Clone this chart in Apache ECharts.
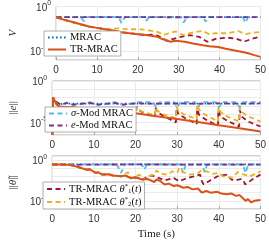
<!DOCTYPE html>
<html><head><meta charset="utf-8">
<script src="https://cdn.jsdelivr.net/npm/echarts@6/dist/echarts.min.js"></script>
<style>html,body{margin:0;padding:0;background:#fff}#c{width:269px;height:241px}</style>
</head><body><div id="c"></div>
<script>
// ---------- data (t in s, value) ----------
const xTicks = [0, 10, 20, 30, 40, 50];
const seriesNames = ['MRAC', 'σ-Mod MRAC', 'e-Mod MRAC', 'TR-MRAC θ1*(t)', 'TR-MRAC θ2*(t)', 'TR-MRAC'];
const yLabelExps1 = [0, -10];
const yLabelExps2 = [0, -5];
const yLabelExps3 = [0, -5];

// Panel 1: V
const vMRAC = [[0,4.0e-3],[8,4.2e-3],[16,3.9e-3],[24,4.1e-3],[32,4.0e-3],[40,4.2e-3],[50,4.0e-3]];
const vSigma = [[0,4.0e-3],[6.0,4.0e-3],[6.8,5.0e-4],[7.5,4.0e-3],[15.3,4.0e-3],[16,2.0e-4],[16.8,4.0e-3],[21.5,4.0e-3],[22.1,6.3e-4],[22.7,4.0e-3],[30.5,4.0e-3],[31.2,2.5e-4],[32,4.0e-3],[36,4.0e-3],[36.6,4.0e-4],[37.2,4.0e-3],[45.7,4.0e-3],[46.3,2.5e-4],[47,4.0e-3],[50,4.0e-3]];
const vEmod = [[0,4.0e-3],[10,4.1e-3],[20,4.0e-3],[30,3.9e-3],[40,4.0e-3],[50,4.0e-3]];
const vTh1 = [[0,4.0e-3],[2,1.0e-3],[4,3.2e-4],[6,1.0e-4],[8,3.2e-5],[10,1.6e-5],[12,7.9e-6],[14,4.0e-6],[16,1.6e-6],[18,1.0e-6],[20,6.3e-7],[22,4.0e-7],[23.7,5.0e-7],[25,2.5e-7],[26,7.9e-8],[27,2.0e-8],[28.5,5.0e-8],[30.5,1.6e-7],[32.6,4.0e-7],[35,1.6e-7],[37,1.26e-8],[39.3,6.3e-8],[42,1.0e-7],[44,6.3e-8],[46,1.26e-8],[48,6.3e-8],[50,1.6e-7]];
const vTh2 = [[0,4.0e-3],[2,1.0e-3],[4,3.2e-4],[6,1.0e-4],[8,3.2e-5],[10,1.6e-5],[12,7.9e-6],[13.5,1.0e-5],[15,1.26e-5],[16.5,1.0e-5],[18,7.9e-6],[20,7.9e-6],[21.6,6.3e-6],[23,4.0e-6],[24.8,2.0e-6],[26.3,4.0e-7],[27.5,1.0e-6],[29.2,2.5e-6],[31,4.0e-7],[33,1.26e-6],[35.9,3.2e-6],[37.4,6.3e-7],[39,1.0e-6],[41.9,1.0e-6],[44.5,3.2e-6],[46.4,6.3e-7],[48,1.26e-6],[50,2.0e-6]];
const vTR = [[0,4.0e-3],[2,1.0e-3],[4,3.2e-4],[6,1.0e-4],[8,3.2e-5],[10,1.6e-5],[12,7.9e-6],[14,4.0e-6],[16,1.6e-6],[18,1.0e-6],[20,6.3e-7],[22,4.0e-7],[24.8,1.6e-7],[26,5.0e-8],[27,2.5e-8],[28,1.26e-8],[29.2,2.0e-8],[31.5,1.26e-8],[33.5,5.0e-9],[35.9,2.0e-9],[37.5,1.26e-9],[39.7,7.9e-10],[41.5,3.2e-10],[43.4,1.6e-10],[45,7.9e-11],[47,3.2e-11],[48.5,1.26e-11],[50,5.0e-12]];

// Panel 2: ||e||
const eMRAC = [[0,3e-7],[0.2,1.0e-2],[0.6,4.0e-3],[1.2,2.5e-3],[2,1.6e-3],[3,1.8e-3],[10,1.9e-3],[20,1.8e-3],[30,1.9e-3],[40,1.8e-3],[50,1.9e-3]];
const eSigma = [[0,3e-7],[0.2,1.0e-2],[0.6,4.0e-3],[1.2,2.5e-3],[2,1.26e-3],[3.5,2.5e-3],[5,1.26e-3],[7,1.6e-3],[9,2.8e-3],[11,1.26e-3],[13,1.6e-3],[15,2.8e-3],[17,1.26e-3],[18.5,1.6e-3],[20,2.8e-3],[24.3,2.8e-3],[25,6.3e-4],[25.8,2.8e-3],[29.3,2.8e-3],[30,6.3e-4],[30.8,2.8e-3],[34.3,2.8e-3],[35,6.3e-4],[35.8,2.8e-3],[39.3,2.8e-3],[40,6.3e-4],[40.8,2.8e-3],[44.3,2.8e-3],[45,6.3e-4],[45.8,2.8e-3],[50,2.8e-3]];
const eEmod = [[0,3e-7],[0.2,1.0e-2],[0.6,4.0e-3],[1.2,2.5e-3],[2,1.4e-3],[3.5,2.2e-3],[5,1.4e-3],[7,1.8e-3],[9,2.2e-3],[11,1.4e-3],[13,1.8e-3],[15,2.2e-3],[17,1.4e-3],[20,2.0e-3],[25,1.8e-3],[30,2.0e-3],[35,1.8e-3],[40,2.0e-3],[45,1.8e-3],[50,2.0e-3]];
const eTh1 = [[0,3e-7],[0.2,1.0e-2],[0.6,4.0e-3],[1,1.6e-3],[1.5,1.0e-3],[2,7.9e-4],[5,6.3e-4],[10,3.5e-4],[15,2.2e-4],[20,1.26e-4],[20.3,1.2e-4],[20.35,7.9e-4],[20.8,3.2e-4],[22,1.3e-4],[24.7,5.0e-5],[24.8,6.3e-4],[25.3,1.6e-4],[27,5.0e-5],[29.7,1.0e-5],[29.8,5.0e-4],[30.3,1.0e-4],[32,3.2e-5],[34.7,6.3e-6],[34.8,4.0e-4],[35.3,7.9e-5],[37,2.0e-5],[39.8,4.0e-6],[39.9,3.2e-4],[40.4,5.0e-5],[42,1.6e-5],[44.9,3.2e-6],[45,3.2e-4],[45.5,5.0e-5],[47,1.26e-5],[50,3.2e-6]];
const eTh2 = [[0,3e-7],[0.2,1.0e-2],[0.6,4.0e-3],[1,1.6e-3],[1.5,1.0e-3],[2,7.9e-4],[5,6.3e-4],[10,3.5e-4],[15,2.2e-4],[20,1.26e-4],[20.3,1.2e-4],[20.35,7.9e-4],[20.8,3.2e-4],[22,1.6e-4],[24.7,7.9e-5],[24.8,6.3e-4],[25.3,2.5e-4],[26.5,1.0e-4],[29.7,3.2e-5],[29.8,8.9e-4],[30.3,2.5e-4],[31.5,1.0e-4],[34.7,2.5e-5],[34.8,1.4e-3],[35.3,3.2e-4],[36.5,1.0e-4],[39.8,1.26e-5],[39.9,6.3e-4],[40.4,2.0e-4],[41.6,6.3e-5],[44.9,1.26e-5],[45,6.3e-4],[45.5,2.0e-4],[46.7,6.3e-5],[50,1.26e-5]];
const eTR = [[0,3e-7],[0.2,1.0e-2],[0.6,4.0e-3],[1,1.6e-3],[1.5,1.0e-3],[2,7.9e-4],[5,6.3e-4],[10,3.5e-4],[15,2.2e-4],[20,1.26e-4],[25,5.6e-5],[30,2.5e-5],[35,1.12e-5],[40,4.5e-6],[45,2.0e-6],[50,7.9e-7]];

// Panel 3: ||theta~||
const thMRAC = [[0,0.28],[10,0.28],[20,0.29],[30,0.28],[40,0.28],[50,0.28]];
const thSigma = [[0,0.28],[6.0,0.28],[6.8,0.1],[7.5,0.28],[15.5,0.28],[16.5,0.025],[17.4,0.28],[21.5,0.28],[22.1,0.063],[22.7,0.28],[30.7,0.28],[31.4,0.025],[32.1,0.28],[36,0.28],[36.6,0.032],[37.2,0.28],[45.8,0.28],[46.4,0.025],[47.1,0.28],[50,0.28]];
const thEmod = [[0,0.27],[10,0.27],[20,0.28],[30,0.27],[40,0.27],[50,0.27]];
const thTh1 = [[0,0.275],[2,0.275],[4,0.25],[5,0.2],[6,0.148],[7,0.1],[8.3,0.063],[9,0.071],[10.5,0.025],[11,0.032],[12,0.016],[13.5,0.0178],[14.5,0.0126],[16.5,0.01],[17.5,0.0126],[18.8,0.0063],[20,0.0071],[21.7,0.004],[23,0.01],[24,0.0126],[25.5,0.0063],[27,0.0032],[29.2,0.0063],[30.4,0.0025],[32,0.005],[34,0.01],[35.5,0.016],[36,0.002],[36.4,0.001],[38,0.0032],[39.7,0.01],[42,0.016],[43,0.004],[44,0.0032],[45.5,0.005],[46,0.0025],[46.3,0.001],[48.6,0.0063],[50,0.016]];
const thTh2 = [[0,0.275],[2,0.275],[4,0.25],[5,0.2],[6,0.148],[7,0.1],[8.3,0.063],[9,0.071],[10.5,0.025],[11,0.032],[12,0.016],[13.5,0.0178],[14.5,0.0126],[16.5,0.01],[17.5,0.02],[18.2,0.032],[18.8,0.005],[20,0.01],[21,0.016],[21.7,0.0032],[23,0.01],[24.5,0.016],[25,0.05],[26,0.02],[27.7,0.016],[28.8,0.04],[30,0.025],[30.5,0.1],[31.5,0.032],[33,0.016],[35,0.025],[36,0.063],[37,0.04],[38.5,0.02],[40,0.025],[41,0.01],[43.3,0.0063],[44.5,0.032],[46,0.016],[47.5,0.01],[49.3,0.025],[50,0.04]];
const thTR = [[0,0.275],[2,0.275],[4,0.25],[5,0.2],[6,0.148],[7,0.1],[8.3,0.063],[9,0.071],[10.5,0.025],[11,0.032],[12,0.016],[13.5,0.0178],[14.5,0.0126],[16.5,0.01],[17.5,0.0126],[18.8,0.0063],[20,0.0071],[21.7,0.004],[23,0.0045],[24.5,0.002],[25,0.004],[26,0.0025],[27,1e-3],[28,1.26e-3],[29.2,6.3e-4],[30,7.9e-4],[31.5,4e-4],[32.5,5e-4],[33.7,2.5e-4],[35,3.2e-4],[35.9,1e-4],[37,1.6e-4],[38,1e-4],[39.7,1.26e-4],[40.5,7.9e-5],[41.9,6.3e-5],[43,7.9e-5],[44.1,4e-5],[45,5e-5],[46.4,1e-5],[47,1.6e-5],[47.8,6.3e-6],[48.5,1e-5],[50,1.26e-5]];

// ---------- styling ----------
const styles = {
  'MRAC': {color:'#0072BD', type:[1.6,2.4], width:1.8},
  'σ-Mod MRAC': {color:'#4DBEEE', type:[5,3.5], width:1.8},
  'e-Mod MRAC': {color:'#7E2F8E', type:[5,3.5], width:1.8},
  'TR-MRAC θ1*(t)': {color:'#A2142F', type:[5,3.5], width:1.8},
  'TR-MRAC θ2*(t)': {color:'#EDB120', type:[5,3.5], width:1.8},
  'TR-MRAC': {color:'#D95319', type:'solid', width:2}
};
const panels = [
  [vMRAC, vSigma, vEmod, vTh1, vTh2, vTR],
  [eMRAC, eSigma, eEmod, eTh1, eTh2, eTR],
  [thMRAC, thSigma, thEmod, thTh1, thTh2, thTR]
];
const series = [];
panels.forEach((arrs, p) => {
  arrs.forEach((d, k) => {
    const nm = seriesNames[k];
    const st = styles[nm];
    series.push({
      name: nm, type: 'line', xAxisIndex: p, yAxisIndex: p, data: d,
      symbol: 'none', showSymbol: false, animation: false, clip: true,
      itemStyle: {color: st.color},
      lineStyle: {color: st.color, type: st.type, width: st.width, cap: 'butt'}
    });
  });
});

const gridColor = '#a8a8a8';
const tickFont = 'Liberation Sans, Arial, sans-serif';
const serif = 'Liberation Serif, Times New Roman, serif';

function expLabel(show) {
  return function (v) {
    const e = Math.round(Math.log10(v) * 100) / 100;
    return show.indexOf(e) >= 0 ? '{b|10}{s|' + e + '}' : '';
  };
}
const labelRich = {
  b: {fontSize: 10, fontFamily: tickFont, color: '#333', lineHeight: 13, verticalAlign: 'bottom'},
  s: {fontSize: 7, fontFamily: tickFont, color: '#333', verticalAlign: 'top'}
};

function xAxis(i) {
  const a = {
    type: 'value', gridIndex: i, min: xTicks[0], max: xTicks[xTicks.length - 1], interval: 10,
    axisLine: {show: false},
    axisTick: {show: true, inside: true, length: 3, lineStyle: {color: gridColor}},
    axisLabel: {fontSize: 10, fontFamily: tickFont, color: '#333', margin: 5},
    splitLine: {show: true, lineStyle: {color: '#ebebeb', width: 1}}
  };
  if (i === 2) {
    a.name = 'Time (s)'; a.nameLocation = 'middle'; a.nameGap = 20;
    a.nameTextStyle = {fontFamily: serif, fontSize: 11, color: '#222'};
  }
  return a;
}
function yAxis(i, min, max, show, name) {
  return {
    type: 'log', logBase: 10, gridIndex: i, min: min, max: max,
    axisLine: {show: false},
    axisTick: {show: false},
    axisLabel: {formatter: expLabel(show), rich: labelRich, margin: 5},
    splitLine: {show: true, lineStyle: {color: '#ebebeb', width: 1}},
    name: name, nameLocation: 'middle', nameGap: 27, nameRotate: 90,
    nameTextStyle: {fontFamily: serif, fontSize: 11, color: '#333',
      rich: {i: {fontFamily: serif, fontSize: 11, fontStyle: 'italic', color: '#333'},
             n: {fontFamily: serif, fontSize: 11, color: '#333'}}}
  };
}

const legendRich = {
  i: {fontFamily: serif, fontSize: 10.5, fontStyle: 'italic', color: '#111'},
  sub: {fontFamily: serif, fontSize: 7, fontStyle: 'normal', color: '#111', verticalAlign: 'bottom'},
  sup: {fontFamily: serif, fontSize: 7, color: '#111', verticalAlign: 'top'},
  n: {fontFamily: serif, fontSize: 10.5, color: '#111', lineHeight: 12}
};
const legendLabels = {
  'MRAC': '{n|MRAC}',
  'TR-MRAC': '{n|TR-MRAC}',
  'σ-Mod MRAC': '{i|σ}{n|-Mod MRAC}',
  'e-Mod MRAC': '{i|e}{n|-Mod MRAC}',
  'TR-MRAC θ1*(t)': '{n|TR-MRAC }{i|θ}{sup|*}{sub|1}{n|(}{i|t}{n|)}',
  'TR-MRAC θ2*(t)': '{n|TR-MRAC }{i|θ}{sup|*}{sub|2}{n|(}{i|t}{n|)}'
};
function legend(data, left, top) {
  return {
    data: data, left: left, top: top, orient: 'vertical',
    itemWidth: 18, itemHeight: 8, itemGap: 1,
    padding: [1, 3, 1, 3],
    backgroundColor: '#fff', borderColor: '#9a9a9a', borderWidth: 0.8,
    selectedMode: false,
    itemStyle: {opacity: 0, borderWidth: 0},
    lineStyle: {opacity: 1},
    formatter: function (n) { return legendLabels[n] || n; },
    textStyle: {fontFamily: serif, fontSize: 10.5, color: '#111', padding: [0,0,0,-1], rich: legendRich}
  };
}

const chart = echarts.init(document.getElementById('c'), null, {renderer: 'canvas'});
chart.setOption({
  animation: false,
  backgroundColor: '#fff',
  grid: [
    {left: 39, right: 6, top: 6, height: 54, show: true, borderColor: gridColor, borderWidth: 1, backgroundColor: 'transparent'},
    {left: 39, right: 6, top: 81, height: 54, show: true, borderColor: gridColor, borderWidth: 1, backgroundColor: 'transparent'},
    {left: 39, right: 6, top: 156, height: 55, show: true, borderColor: gridColor, borderWidth: 1, backgroundColor: 'transparent'}
  ],
  xAxis: [xAxis(0), xAxis(1), xAxis(2)],
  yAxis: [
    yAxis(0, 1e-12, 1, yLabelExps1, '{i|V}'),
    yAxis(1, 3e-7, 1, yLabelExps2, '{n|||}{i|e}{n|||}'),
    yAxis(2, 1e-6, 3, yLabelExps3, '{n|||}{i|θ̃}{n|||}')
  ],
  legend: [
    legend(['MRAC', 'TR-MRAC'], 44, 31),
    legend(['σ-Mod MRAC', 'e-Mod MRAC'], 45, 107),
    legend(['TR-MRAC θ1*(t)', 'TR-MRAC θ2*(t)'], 43, 182)
  ],
  series: series
});
</script></body></html>
